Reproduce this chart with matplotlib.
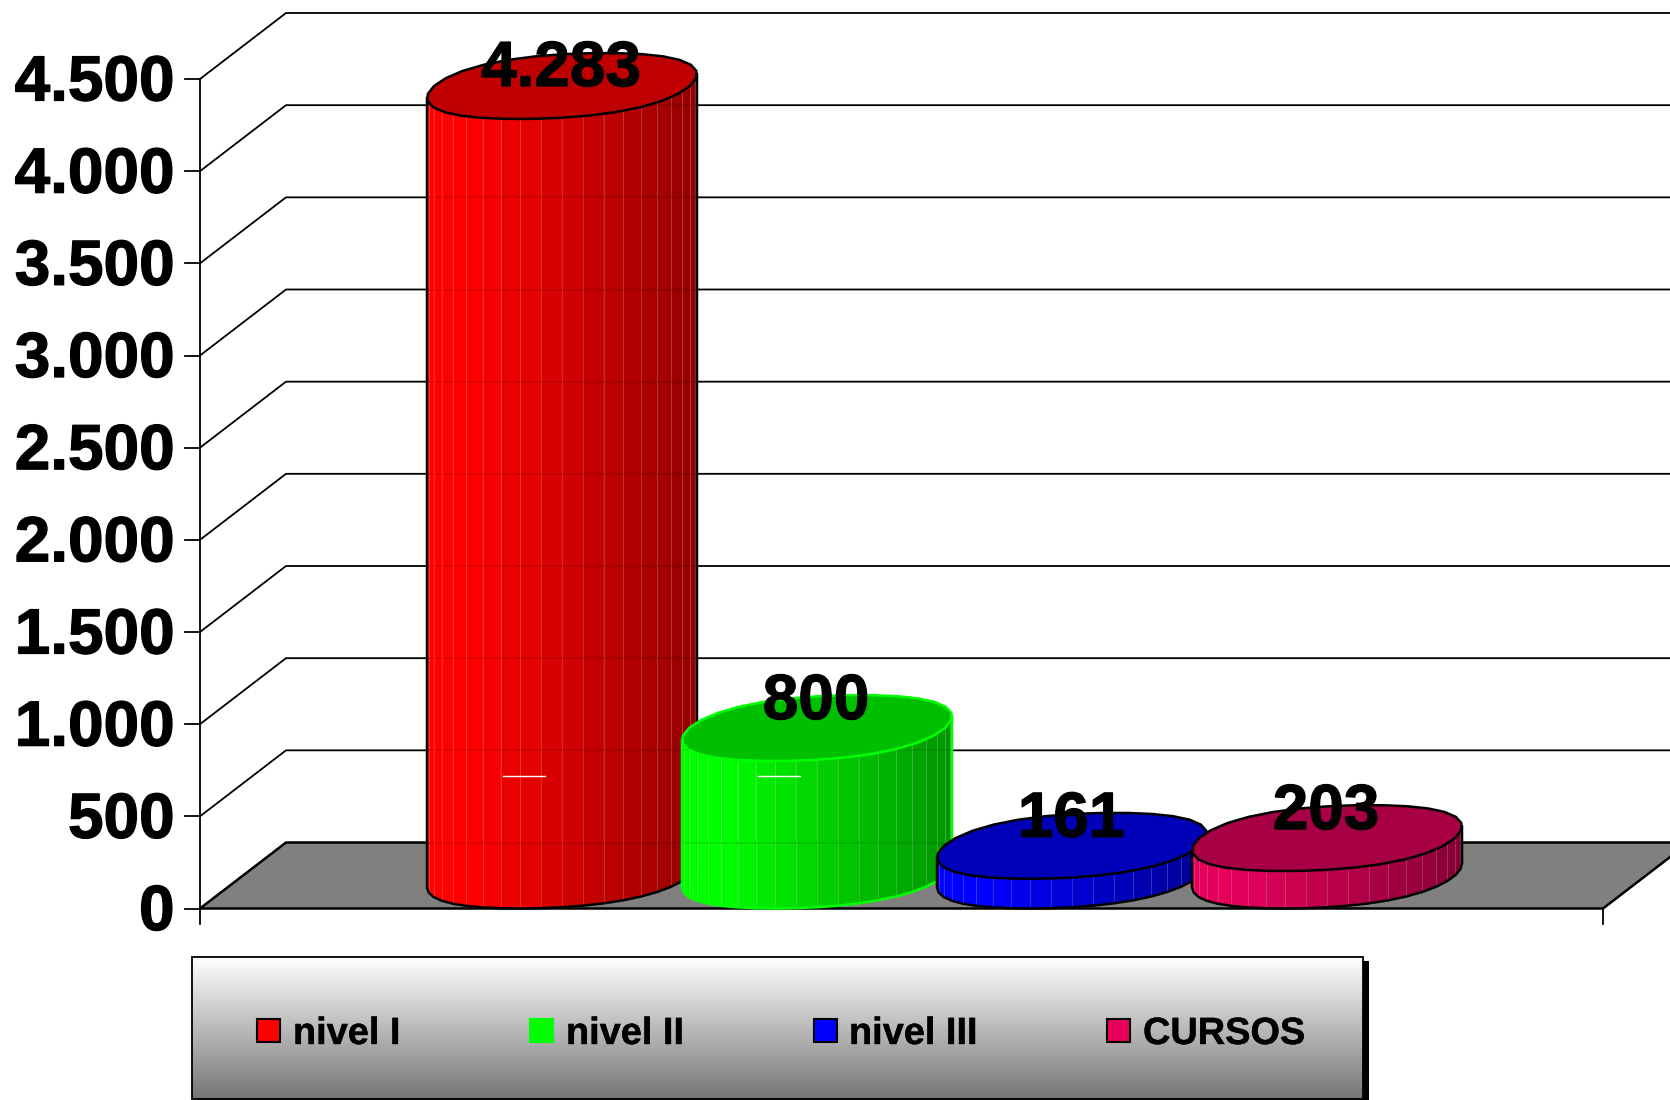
import numpy as np
import matplotlib
matplotlib.use("Agg")
import matplotlib.pyplot as plt
import matplotlib.patheffects as pe
from matplotlib.patches import Polygon, Rectangle

plt.rcParams['font.family'] = ['Liberation Sans', 'DejaVu Sans']

categorias = ["nivel I", "nivel II", "nivel III", "CURSOS"]
valores = [4283, 800, 161, 203]
rotulos = ["4.283", "800", "161", "203"]
ticks = [0, 500, 1000, 1500, 2000, 2500, 3000, 3500, 4000, 4500]
ticks_txt = ["0", "500", "1.000", "1.500", "2.000", "2.500", "3.000", "3.500", "4.000", "4.500"]
cores = ["#ff0000", "#00ff00", "#0000ff", "#e6005c"]
cores_topo = ["#c00000", "#00bf00", "#0000b8", "#a80044"]
cores_borda = ["black", "#00ff00", "black", "black"]

# geometria em pixels da figura
x_eixo, x_dir = 200, 1603
y_zero, y_max = 908.5, 79
prof_x, prof_y = 86, 66
larg = 270
passo = 255
x_ini = 427
vy = 33


def py(v):
    return y_zero - v * (y_zero - y_max) / 4500


# contorno da base: elipse inclinada pela profundidade, com topo e fundo um pouco achatados
t = np.linspace(0, 2 * np.pi, 721)[:-1]
sn = np.sin(t) + 0.035 * np.sin(3 * t)
sn = sn / sn.max()
fx = 125 * np.cos(t) + 42 * np.sin(t)
fx = fx * (larg / 2) / fx.max()
fy = -vy * sn


def contorno(cx, cy, idx):
    return cx + fx[idx], cy + fy[idx]


i_dir = int(np.argmax(fx))
i_esq = int(np.argmin(fx))
n_lado = 20
idx_frente = np.round(np.linspace(i_esq, i_dir + 720, n_lado + 1)).astype(int) % 720
idx_todos = np.arange(0, 720, 24)


def escurece(cor, f):
    c = np.array(matplotlib.colors.to_rgb(cor))
    return tuple(c * f)


contorno_txt = [pe.withStroke(linewidth=0.9, foreground="black")]

fig = plt.figure(figsize=(16.7, 11), dpi=100)
ax = fig.add_axes([0, 0, 1, 1])
ax.set_xlim(0, 1670)
ax.set_ylim(1100, 0)
ax.axis('off')

# chao
ax.add_patch(Polygon([(x_eixo, y_zero), (x_dir, y_zero), (x_dir + prof_x, y_zero - prof_y), (x_eixo + prof_x, y_zero - prof_y)],
                     closed=True, fc="#808080", ec="black", lw=1.8, zorder=1))

# parede e eixo
for v, txt in zip(ticks, ticks_txt):
    y = py(v)
    if v > 0:
        ax.plot([x_eixo, x_eixo + prof_x, 1670], [y, y - prof_y, y - prof_y], color="black", lw=1.3, zorder=1)
    ax.plot([x_eixo - 15, x_eixo], [y, y], color="black", lw=1.3, zorder=2)
    ax.text(174.5, y + 4.5, txt, ha='right', va='center', fontsize=46, fontweight='bold', color="black", zorder=6,
            path_effects=contorno_txt)
ax.plot([x_eixo, x_eixo], [y_max, y_zero + 15], color="black", lw=1.3, zorder=2)
ax.plot([x_dir, x_dir], [y_zero, y_zero + 15], color="black", lw=1.3, zorder=2)

# cilindros
for i, v in enumerate(valores):
    z = 3 + i * 0.1
    cx = x_ini + i * passo + larg / 2
    cy_base = y_zero - vy
    cy_topo = py(v) - vy
    xb, yb = contorno(cx, cy_base, idx_frente)
    xt, yt = contorno(cx, cy_topo, idx_frente)
    for k in range(n_lado):
        f = ((xb[k] + xb[k + 1]) / 2 - (cx - larg / 2)) / larg
        brilho = 1 - 0.42 * np.clip((f - 0.15) / 0.85, 0, 1)
        cor = escurece(cores[i], brilho)
        ax.add_patch(Polygon([(xb[k], yb[k]), (xb[k + 1], yb[k + 1]), (xt[k + 1], yt[k + 1]), (xt[k], yt[k])],
                             closed=True, fc=cor, ec=cor, lw=0.3, zorder=z))
        if k > 0:
            ax.plot([xb[k], xt[k]], [yb[k], yt[k]], color="white", alpha=0.18, lw=0.7, zorder=z)
    # grade aparecendo de leve atras do cilindro
    for g in ticks:
        y_g = py(g) - prof_y
        if y_g > cy_topo:
            ax.plot([cx - larg / 2, cx + larg / 2], [y_g, y_g], color="black", alpha=0.1, lw=1.2, zorder=z)
    # traços brancos da frente
    if v > 500:
        ax.plot([cx - 59, cx - 17], [776, 776], color="white", lw=1, zorder=z + 0.01)
    xe, ye = contorno(cx, cy_topo, idx_todos)
    ax.add_patch(Polygon(np.column_stack([xe, ye]), closed=True, fc=cores_topo[i], ec=cores_borda[i],
                         lw=1.8, joinstyle='round', zorder=z + 0.02))
    ax.plot(np.r_[xt[0], xb, xt[-1]], np.r_[yt[0], yb, yt[-1]], color=cores_borda[i], lw=1.8,
            solid_joinstyle='round', zorder=z + 0.02)

# rotulos
rot_dy = [-17, -26, -26, -26]
for i, v in enumerate(valores):
    cx = x_ini + i * passo + larg / 2
    ax.text(cx - 1, py(v) - vy + rot_dy[i], rotulos[i], ha='center', va='center', fontsize=46,
            fontweight='bold', color="black", zorder=7, path_effects=contorno_txt)

# legenda
leg_x0, leg_x1, leg_y0, leg_y1 = 192, 1363, 957, 1099
ax.add_patch(Rectangle((leg_x0 + 6, leg_y0 + 4), leg_x1 - leg_x0, leg_y1 - leg_y0 + 6, fc="black", ec="none", zorder=8))
grad = np.linspace(1, 0.46, 200).reshape(-1, 1)
ax.imshow(grad, cmap='gray', vmin=0, vmax=1, extent=(leg_x0, leg_x1, leg_y1, leg_y0), aspect='auto', zorder=9)
ax.set_xlim(0, 1670)
ax.set_ylim(1100, 0)
ax.add_patch(Rectangle((leg_x0, leg_y0), leg_x1 - leg_x0, leg_y1 - leg_y0, fc="none", ec="black", lw=1.3, zorder=10))
leg_swatch = [257, 530, 814, 1107]
leg_texto = [293, 566, 849, 1143]
for nome, cor, borda, xs, xl in zip(categorias, cores, cores_borda, leg_swatch, leg_texto):
    ax.add_patch(Rectangle((xs, 1019), 23, 23, fc=cor, ec=borda, lw=1.5, zorder=11))
    ax.text(xl, 1034, nome, ha='left', va='center', fontsize=27.3, fontweight='bold', color="black", zorder=11,
            path_effects=[pe.withStroke(linewidth=0.3, foreground="black")])

plt.savefig("out.png", dpi=100)
plt.close()
